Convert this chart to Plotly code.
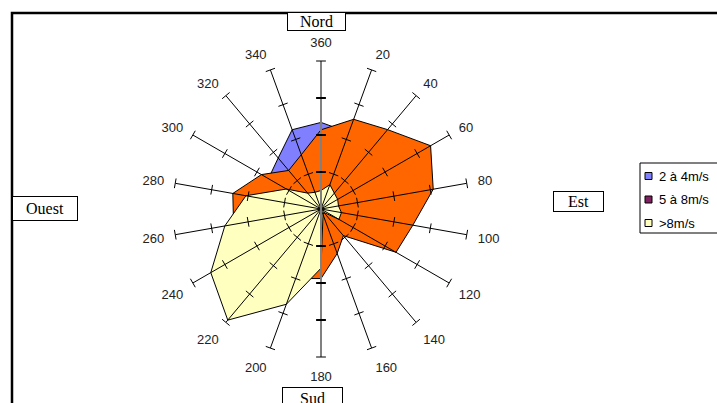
import plotly.graph_objects as go

# ---- data ----
directions = [0, 20, 40, 60, 80, 100, 120, 140, 160, 180, 200, 220, 240, 260, 280, 300, 320, 340]
dir_labels = ["360", "20", "40", "60", "80", "100", "120", "140", "160", "180",
              "200", "220", "240", "260", "280", "300", "320", "340"]
series_names = ["2 à 4m/s", "5 à 8m/s", ">8m/s"]
v_2_4 = [11.7, 11.0, 8.0, 8.0, 7.0, 6.0, 4.0, 2.0, 2.0, 4.0, 6.0, 7.0, 7.0, 7.0, 8.0, 8.2, 9.0, 11.4]
v_5_8 = [10.7, 12.9, 14.0, 17.1, 15.4, 12.6, 11.7, 4.7, 6.4, 9.4, 10.0, 10.0, 11.0, 12.0, 12.1, 9.3, 6.8, 7.8]
v_8 = [2.5, 3.5, 2.8, 2.6, 2.4, 2.8, 2.8, 0.6, 0.8, 8.0, 13.7, 19.6, 17.2, 13.2, 10.3, 5.4, 2.8, 2.4]
radial_ticks = [5, 10, 15, 20]
r_max = 20
compass = ["Nord", "Est", "Sud", "Ouest"]

fill_colors = ["#8080FF", "#FF6600", "#FFFFC0"]
legend_colors = ["#8080FF", "#802060", "#FFFFC0"]

W, H = 717, 403
cx, cy, R = 321, 209, 148

fig = go.Figure()

# filled polygons
for vals, col, name in zip([v_2_4, v_5_8, v_8], fill_colors, series_names):
    fig.add_trace(go.Scatterpolar(
        r=vals + vals[:1], theta=directions + directions[:1],
        mode="lines", fill="toself", fillcolor=col,
        line=dict(color="black", width=1), name=name, showlegend=False,
        hoverinfo="skip"))

# spokes
r_sp, t_sp, r_ax, t_ax = [], [], [], []
for d in directions:
    if d in (0, 180):
        r_ax += [0, r_max, None]
        t_ax += [d, d, None]
    else:
        r_sp += [0, r_max, None]
        t_sp += [d, d, None]
fig.add_trace(go.Scatterpolar(r=r_sp, theta=t_sp, mode="lines",
                              line=dict(color="black", width=1),
                              showlegend=False, hoverinfo="skip", connectgaps=False))
fig.add_trace(go.Scatterpolar(r=r_ax, theta=t_ax, mode="lines",
                              line=dict(color="#808080", width=2),
                              showlegend=False, hoverinfo="skip", connectgaps=False))

# tick marks on each spoke
tr, tt, ta, tw = [], [], [], []
for d in directions:
    for rv in radial_ticks:
        tr.append(rv)
        tt.append(d)
        ta.append(d)
        tw.append(2 if (d in (0, 180) and rv < r_max) else 1)
fig.add_trace(go.Scatterpolar(
    r=tr, theta=tt, mode="markers",
    marker=dict(symbol="line-ew", size=7, angle=ta,
                line=dict(color="black", width=tw)),
    showlegend=False, hoverinfo="skip"))

fig.update_layout(
    width=W, height=H,
    margin=dict(l=0, r=0, t=0, b=0, autoexpand=False),
    paper_bgcolor="white",
    showlegend=False,
    font=dict(family="Liberation Sans, Arial, sans-serif", size=12, color="#222222"),
    polar=dict(
        domain=dict(x=[(cx - R) / W, (cx + R) / W],
                    y=[(H - cy - R) / H, (H - cy + R) / H]),
        bgcolor="white",
        radialaxis=dict(range=[0, r_max], showgrid=False, showline=False,
                        showticklabels=False, ticks=""),
        angularaxis=dict(rotation=90, direction="clockwise",
                         tickmode="array", tickvals=directions, ticktext=dir_labels,
                         showgrid=False, showline=False, ticks="outside",
                         ticklen=8, tickcolor="rgba(0,0,0,0)",
                         tickfont=dict(size=13, color="#222222")),
    ),
)

# outer frame
fig.add_shape(type="rect", xref="paper", yref="paper",
              x0=12 / W, x1=1.3, y0=-0.3, y1=1 - 13 / H,
              line=dict(color="black", width=2.5), fillcolor="rgba(0,0,0,0)")

# legend box (drawn manually so it matches the reference's compact layout)
fig.add_shape(type="rect", xref="paper", yref="paper",
              x0=640 / W, x1=1.2, y0=1 - 233 / H, y1=1 - 163 / H,
              line=dict(color="black", width=1), fillcolor="white")
leg_y = [176, 199.5, 223]
for name, col, yy in zip(series_names, legend_colors, leg_y):
    fig.add_shape(type="rect", xref="paper", yref="paper",
                  x0=645 / W, x1=652 / W, y0=1 - (yy + 3.5) / H, y1=1 - (yy - 3.5) / H,
                  line=dict(color="black", width=1), fillcolor=col)
    fig.add_annotation(text=name, xref="paper", yref="paper",
                       x=657 / W, y=1 - yy / H, xanchor="left", yanchor="middle",
                       showarrow=False, font=dict(size=13, color="black"))

# compass labels
boxes = [(316.5, 22, 57, 17), (578.5, 201.5, 49, 19),
         (312.5, 398, 59, 20), (45, 208.5, 64, 23)]
for txt, (x, y, w, h) in zip(compass, boxes):
    fig.add_annotation(text=txt, xref="paper", yref="paper",
                       x=x / W, y=1 - y / H, xanchor="center", yanchor="middle",
                       showarrow=False, width=w, height=h,
                       font=dict(family="Liberation Serif, Times New Roman, serif",
                                 size=16, color="black"),
                       bordercolor="black", borderwidth=1, borderpad=0,
                       bgcolor="white")

fig.write_html("out.html",
               config={"displayModeBar": False},
               post_script="document.body.style.margin='0';document.body.style.padding='0';")
